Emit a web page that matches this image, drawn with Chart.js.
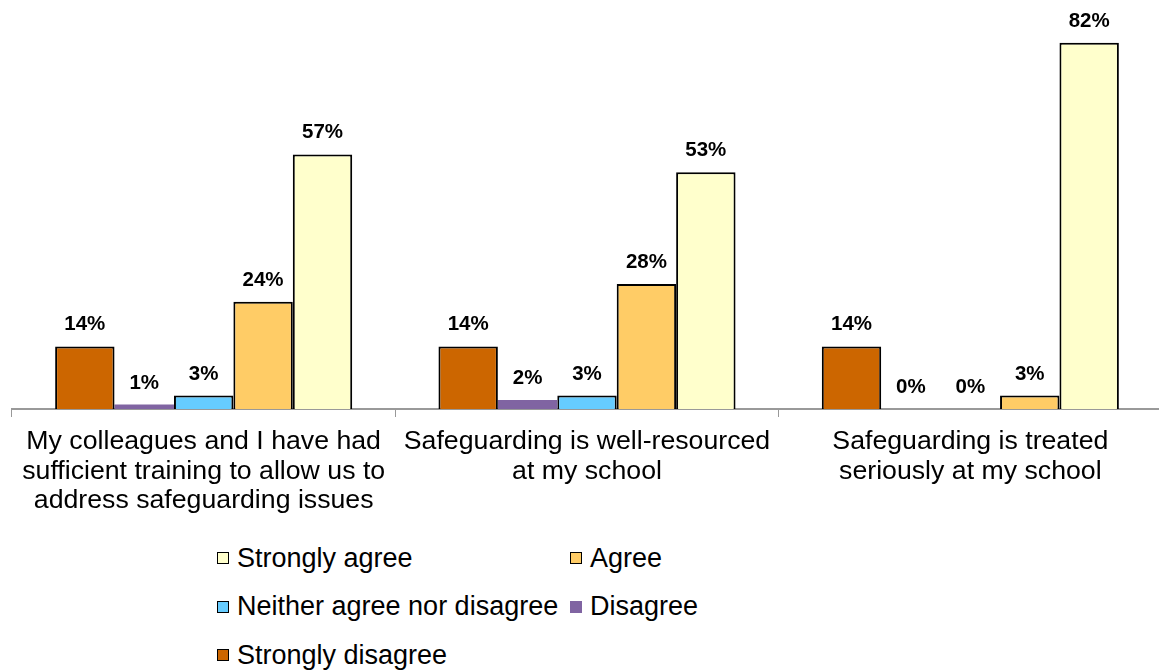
<!DOCTYPE html>
<html>
<head>
<meta charset="utf-8">
<script src="https://cdn.jsdelivr.net/npm/chart.js@4/dist/chart.umd.min.js"></script>
<style>
  html, body { margin: 0; padding: 0; background: #fff; overflow: hidden; }
  #wrap { position: relative; width: 1159px; height: 670px; overflow: hidden; }
  #surveyChart { position: absolute; left: 0; top: 0; }
  #legendBox {
    position: absolute; left: 217px; top: 534px;
    display: grid; grid-template-columns: 353px auto;
    font-family: "Liberation Sans", Arial, sans-serif; font-size: 27px; color: #000;
  }
  .legendItem { display: flex; align-items: center; height: 48.5px; white-space: nowrap; }
  .legendSwatch { width: 12px; height: 12px; box-sizing: border-box; margin-right: 8px; }
</style>
</head>
<body>
<div id="wrap">
  <canvas id="surveyChart" width="1165" height="525"></canvas>
  <div id="legendBox"></div>
</div>
<script>
const categories = [
    ['My colleagues and I have had', 'sufficient training to allow us to', 'address safeguarding issues'],
    ['Safeguarding is well-resourced', 'at my school'],
    ['Safeguarding is treated', 'seriously at my school']
];
const stronglyDisagree = [14, 14, 14];
const disagree = [1, 2, 0];
const neitherAgreeNorDisagree = [3, 3, 0];
const agree = [24, 28, 3];
const stronglyAgree = [57, 53, 82];

const FONT = '"Liberation Sans", Arial, sans-serif';

// percent labels over each bar
const valueLabels = {
    id: 'valueLabels',
    afterDatasetsDraw(chart) {
        const ctx = chart.ctx;
        ctx.save();
        ctx.font = `bold 20.5px ${FONT}`;
        ctx.fillStyle = '#000';
        ctx.textAlign = 'center';
        ctx.textBaseline = 'alphabetic';
        chart.data.datasets.forEach((ds, i) => {
            chart.getDatasetMeta(i).data.forEach((bar, j) => {
                ctx.fillText(ds.data[j] + '%', bar.x, bar.y - 16);
            });
        });
        ctx.restore();
    }
};

const ctx = document.getElementById('surveyChart').getContext('2d');
const chart = new Chart(ctx, {
    type: 'bar',
    data: {
        labels: categories,
        datasets: [
            { label: 'Strongly disagree', data: stronglyDisagree, backgroundColor: '#CC6600', borderColor: '#000', borderWidth: 2 },
            { label: 'Disagree', data: disagree, backgroundColor: '#8064A2', borderWidth: 0 },
            { label: 'Neither agree nor disagree', data: neitherAgreeNorDisagree, backgroundColor: '#66CCFF', borderColor: '#000', borderWidth: 2 },
            { label: 'Agree', data: agree, backgroundColor: '#FFCC66', borderColor: '#000', borderWidth: 2 },
            { label: 'Strongly agree', data: stronglyAgree, backgroundColor: '#FFFFCC', borderColor: '#000', borderWidth: 2 }
        ]
    },
    options: {
        responsive: false,
        animation: false,
        layout: { padding: { left: 12, right: 3, top: 7, bottom: 0 } },
        datasets: {
            bar: { barPercentage: 1, categoryPercentage: 0.775 }
        },
        scales: {
            x: {
                grid: { offset: true, drawOnChartArea: false, drawTicks: true, tickLength: 8, color: '#999', lineWidth: 1 },
                border: { display: true, color: '#999', width: 2 },
                ticks: {
                    color: '#000', font: { family: FONT, size: 26.7, lineHeight: 1.11 }, padding: 10,
                    maxRotation: 0, autoSkip: false
                },
                afterFit(scale) { scale.height = 116; }
            },
            y: {
                display: false,
                min: 0,
                max: 90
            }
        },
        plugins: {
            legend: { display: false },
            tooltip: { enabled: false }
        }
    },
    plugins: [valueLabels]
});

// legend in two columns, Strongly agree first
const legendBox = document.getElementById('legendBox');
const items = chart.options.plugins.legend.labels.generateLabels(chart).reverse();
items.forEach((item) => {
    const row = document.createElement('div');
    row.className = 'legendItem';
    const sw = document.createElement('span');
    sw.className = 'legendSwatch';
    sw.style.background = item.fillStyle;
    sw.style.border = item.lineWidth ? '1px solid #000' : 'none';
    row.appendChild(sw);
    row.appendChild(document.createTextNode(item.text));
    legendBox.appendChild(row);
});
</script>
</body>
</html>
